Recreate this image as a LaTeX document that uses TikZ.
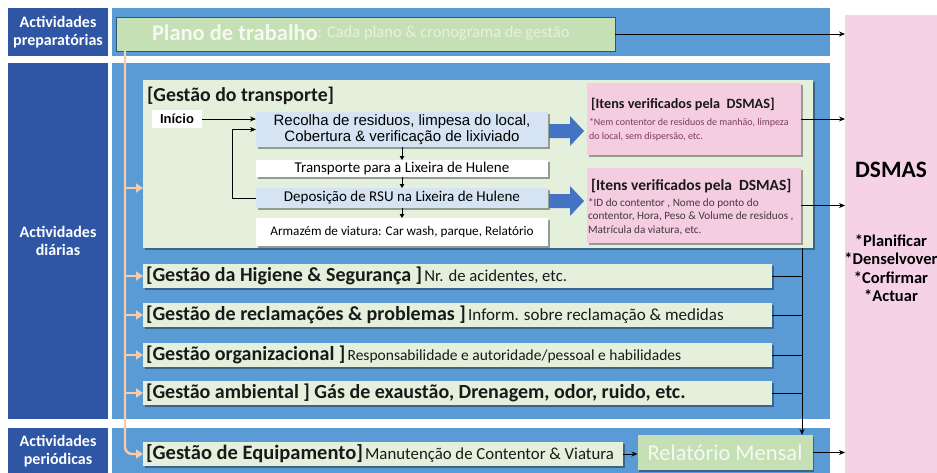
\documentclass[tikz,border=0pt]{standalone}
\usepackage{fontspec}
\setmainfont{Carlito}
\newfontfamily\arialf{Liberation Sans}
\usetikzlibrary{arrows.meta,shadows}
\definecolor{labblue}{RGB}{47,85,165}
\definecolor{bandblue}{RGB}{91,155,213}
\definecolor{lgreen}{RGB}{228,240,220}
\definecolor{mgreen}{RGB}{197,224,180}
\definecolor{lblue}{RGB}{214,227,242}
\definecolor{pinkbox}{RGB}{244,205,224}
\definecolor{dsmaspink}{RGB}{245,210,229}
\definecolor{peach}{RGB}{248,203,173}
\definecolor{barrow}{RGB}{68,114,196}
\definecolor{ptextA}{RGB}{125,60,95}
\definecolor{ptextB}{RGB}{70,55,60}
\definecolor{ghost}{RGB}{246,249,242}
\definecolor{ghostsoft}{RGB}{232,240,226}
\newcommand{\fsz}[2]{\fontsize{#1}{#2}\selectfont}
\begin{document}
\begin{tikzpicture}[x=1pt,y=-1pt,
  every node/.style={inner sep=0pt,outer sep=0pt},
  band/.style={fill=bandblue},
  lab/.style={fill=labblue,text=white,font=\bfseries\fsz{16}{18},align=center},
  shad/.style={drop shadow={shadow xshift=1.8pt,shadow yshift=-1.8pt,opacity=0.35,fill=black}},
  gbox/.style={fill=lgreen,shad},
  stepbox/.style={minimum width=292pt,shad},
  pbox/.style={fill=pinkbox,minimum width=214pt,shad},
  conn/.style={draw=black,line width=0.9pt,-{Stealth[length=6pt,width=5pt]}},
  plain/.style={draw=black,line width=0.9pt},
  small/.style={draw=black,line width=0.9pt,-{Triangle[length=4pt,width=4.5pt]}},
  peacha/.style={draw=peach,line width=2.4pt,-{Triangle[length=7pt,width=9pt]}},
  mtitle/.style={anchor=west,text=black!90},
  btitle/.style={font=\bfseries\fsz{20}{22}}
]
\useasboundingbox (0,0) rectangle (937,472);
\fill[white] (0,0) rectangle (937,472);

% bands
\node[band,minimum width=718pt,minimum height=48pt] (band1) at (471,32) {};
\node[band,minimum width=718pt,minimum height=356pt] (band2) at (471,241) {};
\node[band,minimum width=718pt,minimum height=46pt] (band3) at (471,451) {};

% left labels
\node[lab,minimum width=100pt,minimum height=48pt] (lab1) at (58,32) {Actividades\\preparatórias};
\node[lab,minimum width=100pt,minimum height=356pt] (lab2) at (58,241) {Actividades\\diárias};
\node[lab,minimum width=100pt,minimum height=46pt] (lab3) at (58,451) {Actividades\\periódicas};

% DSMAS
\node[fill=dsmaspink,minimum width=95pt,minimum height=460pt] (dsmas) at (892.5,245) {};
\node[font=\bfseries\fsz{23.5}{26}] (dsmast) at (891,170) {DSMAS};
\node[font=\bfseries\fsz{16.5}{18.5},align=center] (dsmasl) at (891,268) {*Planificar\\*Denselvover\\*Corfirmar\\*Actuar};

% plano de trabalho
\node[fill=mgreen,draw=black!45!bandblue,line width=0.8pt,minimum width=499pt,minimum height=34pt] (plano) at (365.5,34) {};
\node[anchor=west,text=ghost,font=\bfseries\fsz{22.5}{24}] (planot) at (152,33) {Plano de trabalho};
\node[anchor=west,text=ghostsoft,font=\fsz{16.5}{18}] (planos) at (planot.east) { : Cada plano \& cronograma de gestão};

% transport box
\node[gbox,minimum width=670pt,minimum height=168pt] (transp) at (478,164) {};
\node[mtitle,font=\bfseries\fsz{19.8}{22}] (ttitle) at (147,96) {[Gestão do transporte]};
\node[fill=white,minimum width=50pt,minimum height=18pt,font=\arialf\bfseries\fsz{13}{14}] (inicio) at (177,119) {Início};
\node[stepbox,fill=lblue,minimum height=35pt,align=center,font=\arialf\fsz{15}{16}] (recolha) at (402,129.5) {Recolha de residuos, limpesa do local,\\Cobertura \& verificação de lixiviado};
\node[stepbox,fill=white,minimum height=17pt,font=\fsz{15}{16}] (trans) at (402,168.5) {Transporte para a Lixeira de Hulene};
\node[stepbox,fill=lblue,minimum height=20pt,font=\fsz{15}{16}] (depos) at (402,198) {Deposição de RSU na Lixeira de Hulene};
\node[stepbox,fill=white,minimum height=28pt,font=\fsz{13.2}{15}] (armaz) at (402,232) {Armazém de viatura: Car wash, parque, Relatório};

\draw[conn] (inicio.east) -- (inicio.east -| recolha.west);
\draw[conn] (depos.west) -- ++(-24,0) |- (recolha.west);
\draw[small] (recolha.south) -- (trans.north);
\draw[small] (trans.south) -- (depos.north);
\draw[small] (depos.south) -- (armaz.north);

% block arrows
\fill[barrow] (549,124) -- (570,124) -- (570,116) -- (584,131) -- (570,146) -- (570,138) -- (549,138) -- cycle;
\fill[barrow] (549,194) -- (570,194) -- (570,186) -- (584,201) -- (570,216) -- (570,208) -- (549,208) -- cycle;

% pink boxes
\node[pbox,minimum height=72pt] (pink1) at (694,119) {};
\node[mtitle,font=\bfseries\fsz{14.2}{16}] (p1t) at (591,104) {[Itens verificados pela\ \ DSMAS]};
\node[anchor=west,align=left,text=ptextA,font=\fsz{10}{14}] (p1b) at (589,130) {*Nem contentor de residuos de manhão, limpeza\\do local, sem dispersão, etc.};
\node[pbox,minimum height=75pt] (pink2) at (694,205.5) {};
\node[mtitle,font=\bfseries\fsz{15.5}{17}] (p2t) at (591,186) {[Itens verificados pela\ \ DSMAS]};
\node[anchor=west,align=left,text=ptextB,font=\fsz{11.2}{13.5}] (p2b) at (588,216.5) {*ID do contentor , Nome do ponto do\\contentor, Hora, Peso \& Volume de residuos ,\\Matrícula da viatura, etc.};

\draw[conn] (pink1.east) -- (pink1.east -| dsmas.west);
\draw[conn] (pink2.east) -- (pink2.east -| dsmas.west);
\draw[conn] (plano.east) -- (plano.east -| dsmas.west);

% lower management boxes
\node[gbox,minimum width=629pt,minimum height=24pt] (hig) at (457.5,276) {};
\node[gbox,minimum width=629pt,minimum height=24pt] (rec) at (457.5,315) {};
\node[gbox,minimum width=629pt,minimum height=24pt] (org) at (457.5,355) {};
\node[gbox,minimum width=629pt,minimum height=24pt] (amb) at (457.5,393) {};
\node[mtitle] (higt) at (146,276) {{\bfseries\fsz{20}{22}[Gestão da Higiene \& Segurança ]} {\fsz{16.7}{18}Nr. de acidentes, etc.}};
\node[mtitle] (rect) at (146,315) {{\bfseries\fsz{20}{22}[Gestão de reclamações \& problemas ]} {\fsz{17}{18}Inform. sobre reclamação \& medidas}};
\node[mtitle] (orgt) at (146,355) {{\bfseries\fsz{20}{22}[Gestão organizacional ]} {\fsz{15.5}{18}Responsabilidade e autoridade/pessoal e habilidades}};
\node[mtitle,btitle] (ambt) at (146,393) {[Gestão ambiental ] Gás de exaustão, Drenagem, odor, ruido, etc.};

% periodic row
\node[gbox,minimum width=480pt,minimum height=24pt] (equip) at (383,454) {};
\node[mtitle] (equipt) at (146,454) {{\bfseries\fsz{20.5}{22}[Gestão de Equipamento]} {\fsz{16.8}{18}Manutenção de Contentor \& Viatura}};
\node[fill=mgreen,shad,minimum width=175pt,minimum height=35pt,text=ghost,font=\fsz{22.5}{24}] (relat) at (725,452.5) {Relatório Mensal};

\draw[conn] (equip.east) -- (equip.east -| relat.west);
\draw[conn] (relat.east) -- (relat.east -| dsmas.west);

% collector line
\coordinate (vx) at (802,0);
\coordinate (vtop) at (transp.south -| vx);
\draw[plain] (hig.east) -- (hig.east -| vx);
\draw[plain] (rec.east) -- (rec.east -| vx);
\draw[plain] (org.east) -- (org.east -| vx);
\draw[plain] (amb.east) -- (amb.east -| vx);
\draw[conn] (vtop) -- (vtop |- relat.north);

% peach distribution line
\coordinate (px) at (125,0);
\coordinate (ptop) at (plano.south -| px);
\coordinate (tin) at (143,188);
\draw[peacha,rounded corners=7pt] (ptop) |- (equip.west);
\draw[peacha] (ptop |- tin) -- (tin);
\draw[peacha] (ptop |- hig.west) -- (hig.west);
\draw[peacha] (ptop |- rec.west) -- (rec.west);
\draw[peacha] (ptop |- org.west) -- (org.west);
\draw[peacha] (ptop |- amb.west) -- (amb.west);
\end{tikzpicture}
\end{document}
